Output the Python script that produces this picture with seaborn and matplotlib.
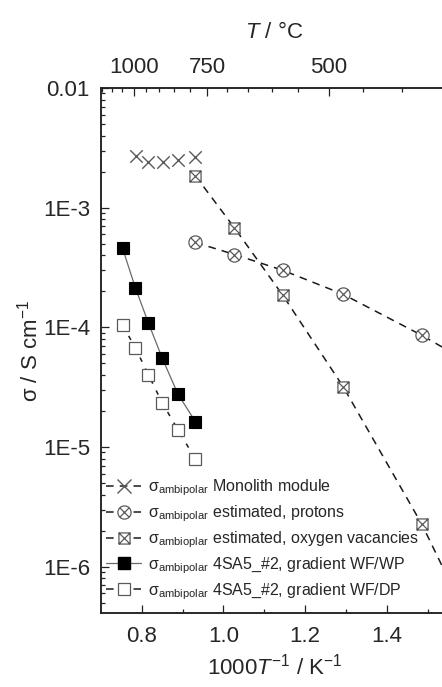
import matplotlib
matplotlib.use("Agg")
import matplotlib.pyplot as plt
import seaborn as sns
import pandas as pd
from matplotlib.path import Path
from matplotlib.lines import Line2D
from matplotlib.ticker import FixedLocator, NullFormatter

# ---- data: 1000/T (1/K) and ambipolar conductivity (S/cm) ----
x_monolith = [0.785, 0.816, 0.852, 0.888, 0.931]
s_monolith = [2.71e-3, 2.41e-3, 2.41e-3, 2.50e-3, 2.63e-3]

x_protons = [0.931, 1.027, 1.145, 1.293, 1.486, 1.605]
s_protons = [5.12e-4, 4.06e-4, 3.00e-4, 1.89e-4, 8.57e-5, 5.0e-5]

x_vacancies = [0.931, 1.027, 1.145, 1.293, 1.486, 1.605]
s_vacancies = [1.85e-3, 6.78e-4, 1.86e-4, 3.2e-5, 2.26e-6, 3.3e-7]

x_wp = [0.753, 0.784, 0.816, 0.850, 0.888, 0.931]
s_wp = [4.56e-4, 2.15e-4, 1.09e-4, 5.53e-5, 2.79e-5, 1.63e-5]

x_dp = [0.753, 0.784, 0.816, 0.850, 0.888, 0.931]
s_dp = [1.04e-4, 6.76e-5, 4.02e-5, 2.34e-5, 1.40e-5, 7.96e-6]

series_labels = [
    r"σ$_{\mathrm{ambipolar}}$ Monolith module",
    r"σ$_{\mathrm{ambipolar}}$ estimated, protons",
    r"σ$_{\mathrm{ambioplar}}$ estimated, oxygen vacancies",
    r"σ$_{\mathrm{ambipolar}}$ 4SA5_#2, gradient WF/WP",
    r"σ$_{\mathrm{ambipolar}}$ 4SA5_#2, gradient WF/DP",
]

y_ticks = [1e-2, 1e-3, 1e-4, 1e-5, 1e-6]
y_tick_labels = ["0.01", "1E-3", "1E-4", "1E-5", "1E-6"]
x_ticks = [0.8, 1.0, 1.2, 1.4]
x_tick_labels = ["0.8", "1.0", "1.2", "1.4"]
top_ticks_C = [1000, 750, 500]
top_minor_C = list(range(1150, 349, -50))

# ---- style ----
sns.set_theme(style="ticks")
plt.rcParams["font.family"] = ["Liberation Sans", "DejaVu Sans"]
plt.rcParams["mathtext.fontset"] = "custom"
plt.rcParams["mathtext.rm"] = "Liberation Sans"
plt.rcParams["mathtext.it"] = "Liberation Sans:italic"
plt.rcParams["mathtext.bf"] = "Liberation Sans:bold"
plt.rcParams["axes.linewidth"] = 1.1
plt.rcParams["axes.edgecolor"] = "#222222"


def boxed_cross():
    sq = Path([(-1, -1), (1, -1), (1, 1), (-1, 1), (-1, -1)],
              [Path.MOVETO, Path.LINETO, Path.LINETO, Path.LINETO, Path.CLOSEPOLY])
    d1 = Path([(-1, -1), (1, 1)], [Path.MOVETO, Path.LINETO])
    d2 = Path([(-1, 1), (1, -1)], [Path.MOVETO, Path.LINETO])
    return Path.make_compound_path(sq, d1, d2)


def circled_cross():
    c = Path.unit_circle()
    r = 0.7071
    d1 = Path([(-r, -r), (r, r)], [Path.MOVETO, Path.LINETO])
    d2 = Path([(-r, r), (r, -r)], [Path.MOVETO, Path.LINETO])
    return Path.make_compound_path(c, d1, d2)


M_BOX = boxed_cross()
M_CIRC = circled_cross()
GREY = "#5a5a5a"
DASH = (0, (5, 4))

fig = plt.figure(figsize=(4.42, 6.87), dpi=100)
ax = fig.add_axes([101 / 442, 74 / 687, 347 / 442, 525 / 687])

xlim = (0.7, 1.55)
ylim = (4.1e-7, 1e-2)

# monolith module: markers only
sns.scatterplot(x=x_monolith, y=s_monolith, ax=ax, marker="x", s=80,
                color=GREY, linewidth=1.0, zorder=4, legend=False)

# estimated, protons
sns.lineplot(x=x_protons, y=s_protons, ax=ax, color="#1a1a1a", linewidth=1.1,
             linestyle=DASH, marker=M_CIRC, markersize=9.5,
             markerfacecolor="white", markeredgecolor=GREY, markeredgewidth=0.9,
             zorder=3, legend=False)

# estimated, oxygen vacancies
sns.lineplot(x=x_vacancies, y=s_vacancies, ax=ax, color="#1a1a1a", linewidth=1.1,
             linestyle=DASH, marker=M_BOX, markersize=8,
             markerfacecolor="white", markeredgecolor=GREY, markeredgewidth=0.9,
             zorder=3, legend=False)

# gradient WF/WP
sns.lineplot(x=x_wp, y=s_wp, ax=ax, color="#6a6a6a", linewidth=0.9,
             linestyle="-", marker="s", markersize=8.5,
             markerfacecolor="black", markeredgecolor="black", markeredgewidth=0.8,
             zorder=3, legend=False)

# gradient WF/DP
sns.lineplot(x=x_dp, y=s_dp, ax=ax, color="#1a1a1a", linewidth=1.1,
             linestyle=(0, (3, 5)), marker="s", markersize=8.5,
             markerfacecolor="white", markeredgecolor=GREY, markeredgewidth=0.9,
             zorder=3, legend=False)

ax.set_yscale("log")
ax.set_xlim(*xlim)
ax.set_ylim(*ylim)

TICK_FS = 16
ax.set_yticks(y_ticks)
ax.set_yticklabels(y_tick_labels, fontsize=TICK_FS)
ax.yaxis.set_minor_locator(FixedLocator(
    [m * 10.0 ** e for e in range(-7, -2) for m in range(2, 10)]))
ax.yaxis.set_minor_formatter(NullFormatter())
ax.set_xticks(x_ticks)
ax.set_xticklabels(x_tick_labels, fontsize=TICK_FS)
ax.set_xticks([0.9, 1.1, 1.3, 1.5], minor=True)
ax.tick_params(which="both", direction="in", color="#222222", width=0.9)
ax.tick_params(which="major", length=5.5)
ax.tick_params(which="minor", length=3)
ax.tick_params(axis="y", which="major", pad=8)
ax.tick_params(axis="x", which="major", pad=9)
ax.tick_params(right=False, top=False)

ax.set_xlabel(r"1000$T^{\mathrm{-1}}$ / K$^{\mathrm{-1}}$", fontsize=TICK_FS, labelpad=5)
ax.set_ylabel(r"σ / S cm$^{\mathrm{-1}}$", fontsize=TICK_FS, labelpad=0)

# temperature scale on top
ax2 = ax.twiny()
ax2.set_xlim(*xlim)
ax2.set_xticks([1000.0 / (t + 273.15) for t in top_ticks_C])
ax2.set_xticklabels([str(t) for t in top_ticks_C], fontsize=TICK_FS)
ax2.set_xticks([1000.0 / (t + 273.15) for t in top_minor_C
                if t not in top_ticks_C], minor=True)
ax2.tick_params(which="both", direction="in", color="#222222", width=0.9)
ax2.tick_params(which="major", length=5.5, pad=7)
ax2.tick_params(which="minor", length=3)
ax2.set_xlabel(r"$T$ / °C", fontsize=TICK_FS, labelpad=14)

# legend
handles = [
    Line2D([], [], color="#1a1a1a", lw=1.1, linestyle=DASH, marker="x", ms=9.5,
           mec=GREY, mew=1.0),
    Line2D([], [], color="#1a1a1a", lw=1.1, linestyle=DASH, marker=M_CIRC, ms=9.5,
           mfc="white", mec=GREY, mew=0.9),
    Line2D([], [], color="#1a1a1a", lw=1.1, linestyle=DASH, marker=M_BOX, ms=8,
           mfc="white", mec=GREY, mew=0.9),
    Line2D([], [], color="#6a6a6a", lw=0.9, linestyle="-", marker="s", ms=8.5,
           mfc="black", mec="black"),
    Line2D([], [], color="#1a1a1a", lw=1.1, linestyle=DASH, marker="s", ms=8.5,
           mfc="white", mec=GREY, mew=0.9),
]
ax.legend(handles, series_labels, loc="upper left", bbox_to_anchor=(0.015, 0.258),
          frameon=False, fontsize=11.5, handlelength=2.2, handletextpad=0.4,
          labelspacing=0.33, borderaxespad=0, borderpad=0)

fig.savefig("out.png", dpi=100)
